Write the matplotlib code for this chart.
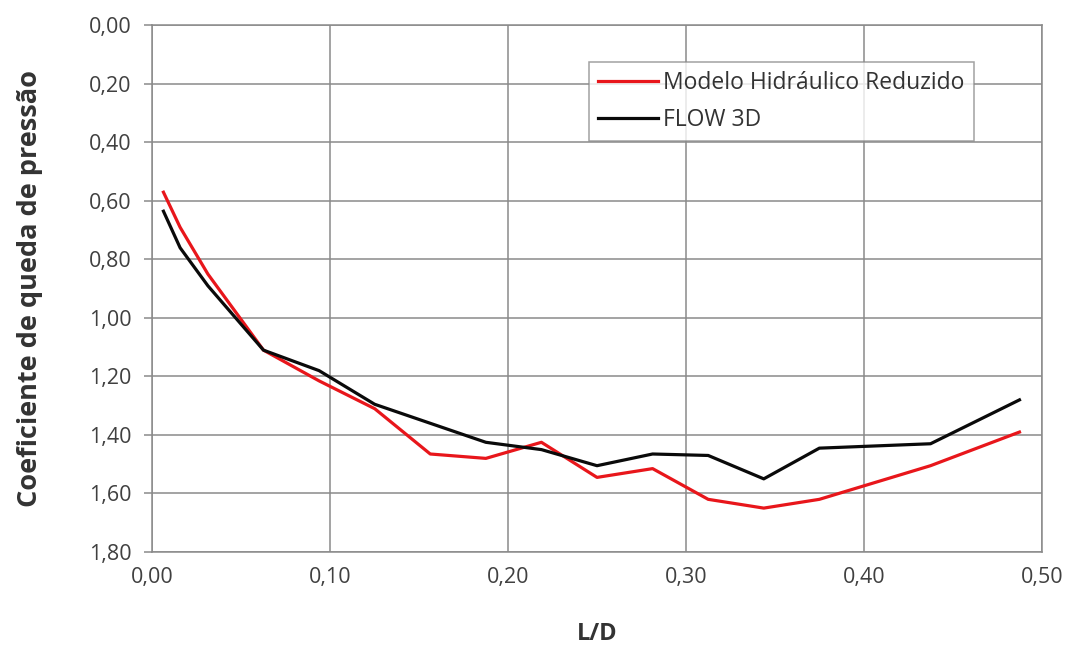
import matplotlib
matplotlib.use("Agg")
import matplotlib.pyplot as plt
from matplotlib.ticker import FixedLocator, FuncFormatter

# L/D positions of the measured / simulated sections
ld = [0.00625, 0.015625, 0.03125, 0.0625, 0.09375, 0.125, 0.15625, 0.1875,
      0.21875, 0.25, 0.28125, 0.3125, 0.34375, 0.375, 0.4375, 0.4875]

# Pressure drop coefficient - reduced hydraulic model
modelo = [0.57, 0.69, 0.85, 1.11, 1.215, 1.31, 1.465, 1.48,
          1.425, 1.545, 1.515, 1.62, 1.65, 1.62, 1.505, 1.39]

# Pressure drop coefficient - FLOW 3D simulation
flow3d = [0.635, 0.76, 0.89, 1.11, 1.18, 1.295, 1.36, 1.425,
          1.45, 1.505, 1.465, 1.47, 1.55, 1.445, 1.43, 1.28]

x_ticks = [0.0, 0.1, 0.2, 0.3, 0.4, 0.5]
y_ticks = [0.0, 0.2, 0.4, 0.6, 0.8, 1.0, 1.2, 1.4, 1.6, 1.8]

plt.rcParams['font.family'] = ['Open Sans', 'DejaVu Sans']

fig = plt.figure(figsize=(10.66, 6.52), dpi=100)
ax = fig.add_axes([0.1429, 0.1534, 0.8343, 0.8075])

grid_c = '#8a8a8a'
ax.plot(ld, modelo, color='#e8161b', lw=2.3, label='Modelo Hidráulico Reduzido', zorder=3)
ax.plot(ld, flow3d, color='#0a0a0a', lw=2.3, label='FLOW 3D', zorder=3)

ax.set_xlim(0, 0.5)
ax.set_ylim(1.8, 0.0)
ax.xaxis.set_major_locator(FixedLocator(x_ticks))
ax.yaxis.set_major_locator(FixedLocator(y_ticks))
fmt = FuncFormatter(lambda v, p: f"{v:.2f}".replace('.', ','))
ax.xaxis.set_major_formatter(fmt)
ax.yaxis.set_major_formatter(fmt)

ax.grid(True, color=grid_c, lw=1.1, zorder=0)
for s in ax.spines.values():
    s.set_color(grid_c)
    s.set_linewidth(1.1)

ax.tick_params(axis='y', direction='out', length=6, width=1.1, color=grid_c,
               labelsize=15.5, labelcolor='#404040', pad=9)
ax.tick_params(axis='x', length=0, labelsize=15.5, labelcolor='#404040', pad=11)

ax.set_xlabel('L/D', fontsize=17, fontweight='bold', color='#333333', labelpad=24)
ax.set_ylabel('Coeficiente de queda de pressão', fontsize=19.5, fontweight='bold',
              color='#333333', labelpad=33)

leg = ax.legend(loc='upper left', bbox_to_anchor=(0.491, 0.9307), fontsize=16.5,
                frameon=True, fancybox=False, handlelength=2.6, handletextpad=0.25,
                borderpad=0.4, labelspacing=0.55, borderaxespad=0)
leg.get_frame().set_edgecolor(grid_c)
leg.get_frame().set_linewidth(1.1)
for t in leg.get_texts():
    t.set_color('#333333')

fig.savefig('out.png', dpi=100)
